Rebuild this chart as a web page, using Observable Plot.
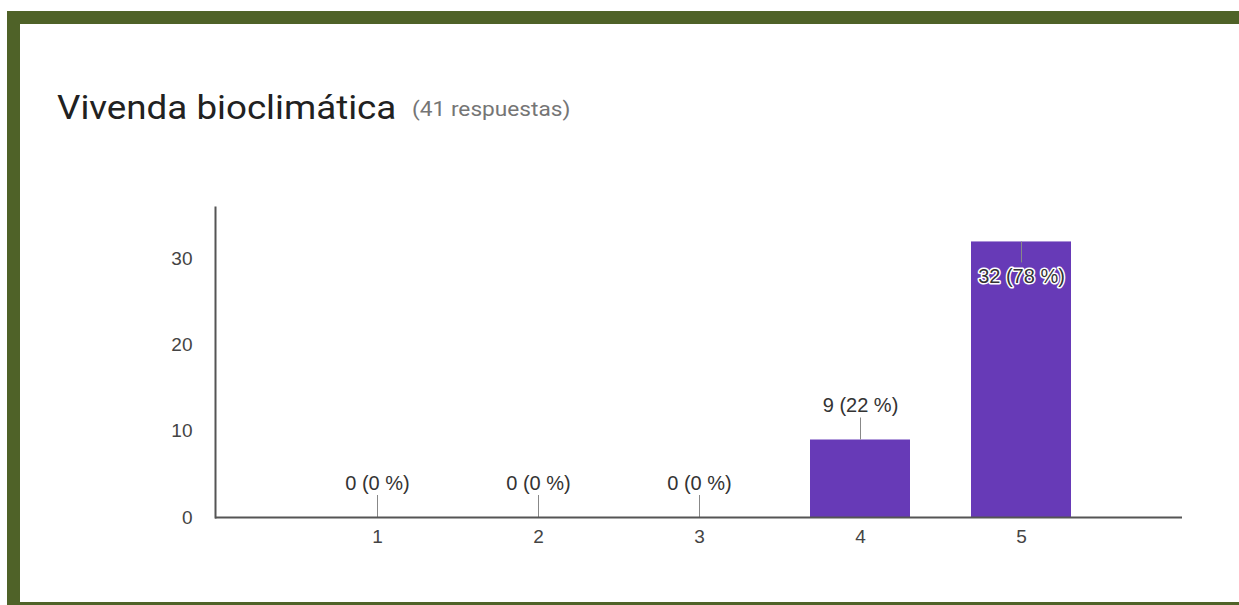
<!DOCTYPE html>
<html><head><meta charset="utf-8">
<script src="https://cdn.jsdelivr.net/npm/d3@7"></script>
<script src="https://cdn.jsdelivr.net/npm/@observablehq/plot@0.6"></script>
<style>
html,body{margin:0;padding:0;background:#fff;width:1239px;height:605px;overflow:hidden;position:relative}
.bd{position:absolute;background:#4f6228;z-index:5}
.bt{left:7px;top:11px;width:1232px;height:13px}
.bl{left:7px;top:11px;width:13px;height:594px}
.bb{left:7px;top:602px;width:1232px;height:3px}
#title{position:absolute;left:57px;top:90px;font-family:Roboto,Arial,sans-serif;font-size:34px;line-height:34px;color:#212121;white-space:nowrap;transform:scaleX(1.08);transform-origin:0 0}
#sub{position:absolute;left:412px;top:99px;font-family:Roboto,Arial,sans-serif;font-size:21px;line-height:21px;color:#757575;white-space:nowrap;transform:scaleX(1.08);transform-origin:0 0}
#chart{position:absolute;left:0;top:150px}
</style>
</head><body>
<div class="bd bt"></div><div class="bd bl"></div><div class="bd bb"></div>
<div id="title"></div>
<div id="sub"></div>
<div id="chart"></div>
<script>
const titleText = "Vivenda bioclimática";
const responses = 41;
const categories = ["1", "2", "3", "4", "5"];
const counts = [0, 0, 0, 9, 32];
const percents = [0, 0, 0, 22, 78];
const yTicks = [0, 10, 20, 30];

document.getElementById("title").textContent = titleText;
document.getElementById("sub").textContent = `(${responses} respuestas)`;

const data = categories.map((c, i) => ({cat: c, count: counts[i], label: `${counts[i]} (${percents[i]} %)`}));
const maxCount = d3.max(counts);
const outside = data.filter(d => d.count < maxCount);
const inside = data.filter(d => d.count === maxCount);

const chart = Plot.plot({
  width: 1239, height: 420,
  marginLeft: 215, marginRight: 57, marginTop: 57, marginBottom: 53,
  style: {fontFamily: "Arial, 'Liberation Sans', sans-serif", fontSize: "19px", color: "#444", background: "transparent", overflow: "visible"},
  x: {type: "band", domain: categories, paddingInner: 0.38, paddingOuter: 0.69, align: 0.5},
  y: {domain: [0, 36]},
  marks: [
    Plot.barY(data, {x: "cat", y: "count", fill: "#673ab7"}),
    Plot.ruleX(outside, {x: "cat", y1: "count", y2: "count", stroke: "#888", insetTop: -22}),
    Plot.ruleX(inside, {x: "cat", y1: "count", y2: "count", stroke: "#888", insetBottom: -21}),
    Plot.text(outside, {x: "cat", y: "count", text: "label", dy: -34, fill: "#333", fontSize: 20}),
    Plot.text(inside, {x: "cat", y: "count", text: "label", dy: 35, fill: "#333", fontSize: 20, stroke: "#fff", strokeWidth: 3}),
    Plot.axisY({ticks: yTicks, tickSize: 0, tickPadding: 23, label: null}),
    Plot.axisX({tickSize: 0, tickPadding: 12, label: null}),
    Plot.ruleY([0], {stroke: "#555", strokeWidth: 2}),
    Plot.frame({anchor: "left", stroke: "#555", strokeWidth: 2})
  ]
});
document.getElementById("chart").appendChild(chart);
</script>
</body></html>
